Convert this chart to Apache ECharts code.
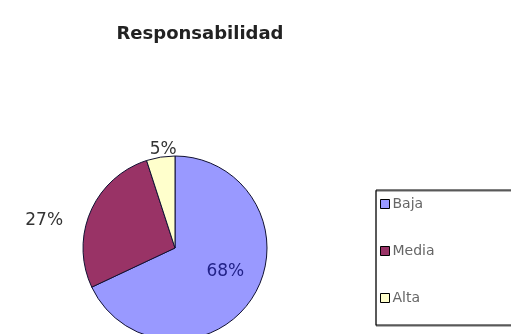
<!DOCTYPE html>
<html>
<head>
<meta charset="utf-8">
<script src="https://cdn.jsdelivr.net/npm/echarts@6/dist/echarts.min.js"></script>
<style>
  html, body { margin: 0; padding: 0; background: #fff; }
  #main { width: 511px; height: 334px; }
</style>
</head>
<body>
<div id="main"></div>
<script>
// datos
const categorias = ['Baja', 'Media', 'Alta'];
const valores = [68, 27, 5];
const colores = ['#9999FF', '#993366', '#FFFFCC'];
const posEtiqueta = ['inside', 'outside', 'outside'];
// ajuste fino de las etiquetas (px)
const despl = [[9, -3], [-17, 11], [22, -2]];

const chart = echarts.init(document.getElementById('main'), null, { renderer: 'canvas' });

const datos = categorias.map((c, i) => ({
  name: c,
  value: valores[i],
  itemStyle: { color: colores[i] },
  label: {
    position: posEtiqueta[i],
    color: i === 0 ? '#222288' : '#333'
  }
}));

chart.setOption({
  backgroundColor: '#fff',
  animation: false,
  title: {
    text: 'Responsabilidad',
    left: 195,
    textAlign: 'center',
    top: 20,
    textStyle: { fontFamily: 'DejaVu Sans', fontWeight: 'bold', fontSize: 18, color: '#222' }
  },
  legend: {
    orient: 'vertical',
    left: 376,
    top: 190,
    itemWidth: 9,
    itemHeight: 9,
    itemGap: 33,
    padding: [7, 100, 20, 4],
    borderColor: '#000',
    borderWidth: 1,
    shadowColor: 'rgba(0,0,0,0.6)',
    shadowOffsetY: 1,
    icon: 'rect',
    itemStyle: { borderColor: '#000', borderWidth: 1 },
    textStyle: { fontFamily: 'DejaVu Sans', fontSize: 14, color: '#666', padding: [0, 0, 0, -2] },
    data: categorias
  },
  series: [{
    type: 'pie',
    center: [175, 248],
    radius: 92,
    startAngle: 90,
    clockwise: true,
    data: datos,
    itemStyle: { borderColor: '#111133', borderWidth: 1 },
    label: {
      formatter: '{d}%',
      fontFamily: 'DejaVu Sans',
      fontSize: 17
    },
    labelLine: { show: false, length: 6, length2: 0 },
    labelLayout: p => ({ dx: despl[p.dataIndex][0], dy: despl[p.dataIndex][1] }),
    emphasis: { disabled: true }
  }]
});
</script>
</body>
</html>
